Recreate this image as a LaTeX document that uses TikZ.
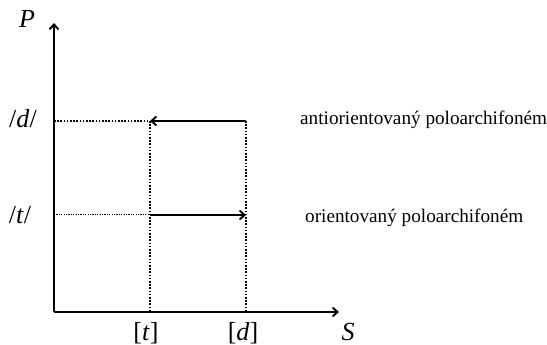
\documentclass[tikz,border=0pt]{standalone}
\usepackage{fontspec}
\setmainfont{Liberation Serif}
\usetikzlibrary{arrows.meta}
\begin{document}
\begin{tikzpicture}[x=1pt,y=1pt,
  axis/.style={line width=1.9pt, -{Straight Barb[length=5pt,width=9pt]}},
  move/.style={line width=1.9pt, -{Straight Barb[length=5pt,width=9pt]}},
  guide/.style={line width=1.8pt, dash pattern=on 1.6pt off 1.6pt},
  thinguide/.style={line width=1pt, dash pattern=on 1.2pt off 1.2pt},
  big/.style={inner sep=0pt, font=\fontsize{26}{30}\selectfont},
  note/.style={inner sep=0pt, anchor=west, font=\fontsize{19.2}{23}\selectfont}]
\useasboundingbox (0,0) rectangle (547,345);
\coordinate (o) at (54,33);
\coordinate (ptop) at (54,322);
\coordinate (send) at (339,33);
\coordinate (dlev) at (54,224);
\coordinate (tlev) at (54,130);
\coordinate (tfoot) at (150,33);
\coordinate (dfoot) at (246,33);
\coordinate (dt) at (150,224);
\coordinate (dd) at (246,224);
\coordinate (tt) at (150,130);
\coordinate (td) at (246,130);

\draw[guide] (dlev) -- (dt);
\draw[guide] (dt) -- (tfoot);
\draw[guide] (dd) -- (dfoot);
\draw[thinguide] (tlev) -- (tt);
\draw[move] (dd) -- (dt);
\draw[move] (tt) -- (td);
\draw[axis] (o) -- (ptop);
\draw[axis] (o) -- (send);

\node[big] (P) at (27,326) {\itshape P};
\node[big] (S) at (348,13) {\itshape S};
\node[big] (dphon) at (23,226) {/\textit{d}/};
\node[big] (tphon) at (20,130) {/\textit{t}/};
\node[big] (tsnd) at (146,12) {[\textit{t}]};
\node[big] (dsnd) at (243,12) {[\textit{d}]};
\node[note] (anti) at (300,225) {antiorientovaný poloarchifoném};
\node[note] (ori) at (305,127) {orientovaný poloarchifoném};
\end{tikzpicture}
\end{document}
